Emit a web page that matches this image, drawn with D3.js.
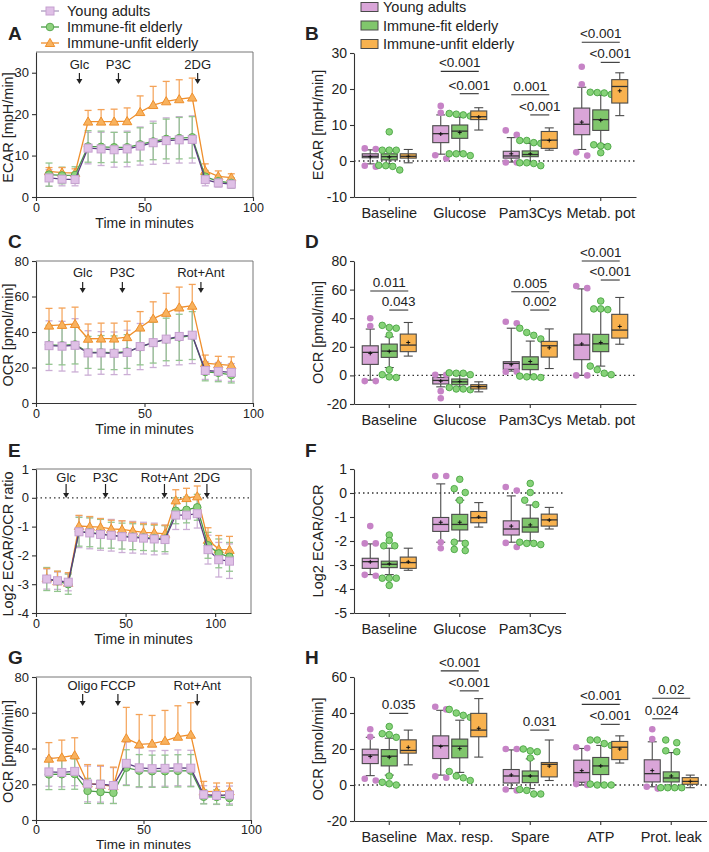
<!DOCTYPE html>
<html>
<head>
<meta charset="utf-8">
<script src="https://cdn.jsdelivr.net/npm/d3@7"></script>
<style>
  body { margin: 0; background: #fff; }
  text { font-family: "Liberation Sans", Arial, sans-serif; fill: #222; }
</style>
</head>
<body>
<svg id="fig" width="709" height="852"></svg>
<script>
// ---- data ----
var groups = ["Young adults", "Immune-fit elderly", "Immune-unfit elderly"];

var time15 = [6, 12, 18, 24, 30, 36, 42, 48, 54, 60, 66, 72, 78, 84, 90];
var time18 = [6, 12, 18, 24, 30, 36, 42, 48, 54, 60, 66, 72, 78, 84, 90, 96, 102, 108];

// A: ECAR kinetics
var ecarYoung = [4.6, 4.3, 4.2, 11.8, 11.6, 11.4, 11.6, 12.3, 13.1, 13.6, 13.8, 13.9, 4.2, 3.4, 3.1];
var ecarYoungSd = [2.0, 1.6, 1.5, 3.8, 4.0, 4.2, 4.3, 4.6, 5.2, 5.5, 5.6, 5.7, 1.5, 1.0, 1.0];
var ecarFit = [5.4, 5.2, 5.3, 12.2, 12.1, 12.0, 12.0, 12.7, 13.4, 14.0, 14.2, 14.4, 4.9, 3.8, 3.4];
var ecarFitSd = [2.8, 2.0, 2.0, 3.8, 3.8, 3.6, 3.6, 4.0, 4.4, 4.8, 5.0, 5.0, 1.5, 1.2, 1.2];
var ecarUnfit = [6.2, 5.9, 5.8, 18.2, 18.2, 18.2, 18.3, 20.5, 22.2, 23.1, 23.6, 24.0, 6.3, 5.0, 4.7];
var ecarUnfitSd = [0.9, 1.2, 1.0, 2.7, 2.9, 3.0, 3.2, 3.9, 4.5, 4.8, 4.7, 4.7, 1.7, 1.3, 0.9];
var ecarInjections = [["Glc", 20], ["P3C", 38], ["2DG", 74.5]];

// C: OCR kinetics
var ocrYoung = [32.3, 32, 32.5, 28.2, 28.2, 28.0, 28.5, 31.8, 34, 36, 37.5, 38.2, 18.3, 17.8, 17.2];
var ocrYoungSd = [14, 14, 15, 12.5, 12, 12, 12.5, 13, 14, 15, 16, 16, 5, 5, 5];
var ocrFit = [32.8, 32.5, 33, 28.5, 28.5, 28.3, 29, 31.5, 34, 35.8, 37, 38, 17.5, 17, 15.8];
var ocrFitSd = [11, 11, 11, 9, 9.5, 9.5, 9.5, 10, 11.5, 12, 13, 13.5, 5, 5, 4.5];
var ocrUnfit = [43.6, 44, 44.5, 36.2, 36.3, 36.3, 37.1, 42.5, 47.5, 50.8, 53.8, 54.8, 22.5, 21.8, 21.2];
var ocrUnfitSd = [9.7, 9.5, 9.5, 8.3, 8.7, 8.7, 9, 9, 9.5, 11, 11.5, 12, 4.5, 4.5, 4.8];
var ocrInjections = [["Glc", 21.5], ["P3C", 39.8], ["Rot+Ant", 76]];

// E: log2 ECAR/OCR kinetics
var ratioYoung = [-2.82, -2.88, -2.93, -1.18, -1.22, -1.27, -1.3, -1.35, -1.37, -1.4, -1.43, -1.45, -0.6, -0.6, -0.55, -1.8, -2.15, -2.2];
var ratioYoungSd = [0.35, 0.3, 0.3, 0.55, 0.55, 0.55, 0.55, 0.55, 0.55, 0.55, 0.55, 0.5, 0.5, 0.5, 0.5, 0.5, 0.6, 0.6];
var ratioFit = [-2.82, -2.9, -3.0, -1.18, -1.2, -1.25, -1.3, -1.33, -1.35, -1.38, -1.4, -1.42, -0.45, -0.42, -0.33, -1.65, -1.93, -2.05];
var ratioFitSd = [0.4, 0.35, 0.35, 0.5, 0.5, 0.5, 0.45, 0.45, 0.45, 0.45, 0.45, 0.45, 0.45, 0.45, 0.45, 0.45, 0.5, 0.5];
var ratioUnfit = [-2.8, -2.9, -2.95, -0.98, -1.0, -1.02, -1.08, -1.1, -1.15, -1.2, -1.22, -1.25, -0.09, -0.01, 0.05, -1.46, -1.79, -1.81];
var ratioUnfitSd = [0.35, 0.35, 0.35, 0.37, 0.35, 0.3, 0.3, 0.3, 0.3, 0.3, 0.3, 0.3, 0.37, 0.34, 0.36, 0.42, 0.48, 0.47];
var ratioInjections = [["Glc", 16.8], ["P3C", 38.8], ["Rot+Ant", 71.7], ["2DG", 95.4]];

// G: mito stress test kinetics
var mitoYoung = [26.9, 26.6, 27.2, 20.2, 20, 19.3, 31.7, 29.2, 28.7, 28.9, 29.2, 29, 14.2, 13.7, 14];
var mitoYoungSd = [8, 8, 8, 10, 10, 10, 12, 11, 10, 10, 10, 10, 5, 5, 5];
var mitoFit = [25.5, 25.6, 25.7, 16.3, 15.7, 15.2, 29.3, 27.6, 27.3, 27.3, 27.5, 27.6, 13, 12.9, 12.3];
var mitoFitSd = [8.5, 8.5, 8.5, 7, 6.5, 6, 10, 9, 9, 9, 9, 9, 4, 4, 4];
var mitoUnfit = [34.3, 35, 36.2, 20.5, 19.6, 18.9, 45.7, 42.3, 42.7, 44.3, 46.6, 47.7, 15.9, 16, 16];
var mitoUnfitSd = [9, 9.7, 9.8, 10.5, 11, 10.7, 17.3, 16.7, 15.8, 17, 17.3, 17.9, 5.7, 4.7, 4.7];
var mitoInjections = [["Oligo", 21.7], ["FCCP", 38.1], ["Rot+Ant", 75]];

// box stats per category, per group: [whiskerLow, q1, median, q3, whiskerHigh, mean]
var glycoCats = ["Baseline", "Glucose", "Pam3Cys", "Metab. pot"];
var ecarBox = [
  [[-0.8, 0.9, 1.3, 2.0, 3.1, 1.2], [-0.8, 0.3, 1.2, 2.0, 2.8, 1.1], [-0.5, 0.8, 1.3, 2.0, 3.2, 1.3]],
  [[1.9, 5.1, 7.6, 9.8, 12.8, 7.5], [2.5, 6.3, 8.3, 10.0, 12.2, 7.9], [8.6, 11.5, 12.3, 13.9, 14.8, 12.2]],
  [[-0.3, 0.8, 1.4, 2.7, 6.5, 2.0], [-0.2, 1.2, 1.8, 2.8, 4.9, 2.0], [3.0, 3.5, 5.8, 8.2, 9.2, 5.7]],
  [[3.2, 7.3, 10.2, 14.7, 20.5, 10.8], [4.6, 8.5, 11.5, 14.2, 18.3, 11.3], [12.6, 16.1, 20.7, 22.6, 24.5, 19.5]]
];
var ecarOut = [
  [[3.3, 3.5, -1.6, -1.3], [8.1, 3.0, 3.0, 3.0, -1.2, -1.5, -2.5, -1.3], []],
  [[15.3, 13.4, 1.6, 0.7], [13.0, 12.8, 12.5, 13.2, 2.0, 2.0, 2.0, 1.5], []],
  [[8.5, 7.3, -0.4, -0.4], [4.9, 5.1, 5.7, 5.7, -1.3, -0.5, -0.7, -0.5], []],
  [[26.2, 21.3, 1.5, 2.4], [18.5, 18.9, 19.1, 19.0, 4.5, 4.0, 4.2, 2.3], []]
];
// [category, group from, group to, bar value, label]
var ecarSig = [[1, 0, 2, 24.9, "<0.001"], [1, 1, 2, 18.7, "<0.001"], [2, 0, 2, 18.4, "0.001"],
               [2, 1, 2, 12.8, "<0.001"], [3, 0, 2, 33.0, "<0.001"], [3, 1, 2, 27.4, "<0.001"]];

var ocrBox = [
  [[-3.3, 7.7, 16.1, 20.7, 32.4, 15.4], [5.5, 12.6, 17.0, 21.9, 27.0, 16.8], [13.5, 16.6, 21.2, 28.9, 37.0, 23.0]],
  [[-8, -6, -3.5, -1.5, 0.5, -4], [-8, -6.5, -4.5, -2.5, 0, -4.3], [-11.5, -9.5, -7.8, -6.5, -4.5, -8]],
  [[3, 4.2, 8.4, 9.6, 33, 7.5], [0.5, 4, 7.7, 13, 24, 9.7], [4.8, 12.8, 20.7, 23.8, 32.5, 19.3]],
  [[0, 11, 21.2, 28.9, 60.5, 22], [6.5, 16.6, 22.1, 28.7, 46, 23], [21.8, 26.1, 31.7, 42.7, 54.5, 34.2]]
];
var ocrOut = [
  [[40, 34.5, -4, -4], [35, 33.5, 33, 28.3, 4, 0.5, -1.5, -1], []],
  [[0.5, 0.5, -11, -16], [1.5, 1.5, 1.8, 0.5, -8.5, -10, -9.5, -9.5], []],
  [[36.5, 37.5, 2.5, 2.5], [33, 30, 28, 25.5, -0.5, -1, -1.5, -1], []],
  [[61, 62.5, 0, 0], [52, 46.5, 46.5, 46, 6.5, 4, 0.5, 1.5], []]
];
var ocrSig = [[0, 0, 2, 59, "0.011"], [0, 1, 2, 45.7, "0.043"], [2, 0, 2, 58.5, "0.005"],
              [2, 1, 2, 45.7, "0.002"], [3, 0, 2, 80, "<0.001"], [3, 1, 2, 66.7, "<0.001"]];

var ratioCats = ["Baseline", "Glucose", "Pam3Cys"];
var ratioBox = [
  [[-3.4, -3.14, -2.86, -2.72, -2.12, -2.87], [-3.4, -3.11, -2.97, -2.84, -2.3, -2.95], [-3.22, -3.14, -2.9, -2.67, -2.3, -2.87]],
  [[-2.05, -1.6, -1.31, -1.02, 0.38, -1.22], [-2.0, -1.54, -1.31, -0.89, -0.3, -1.22], [-1.42, -1.24, -1.03, -0.77, -0.4, -1.0]],
  [[-2.05, -1.75, -1.5, -1.16, -0.12, -1.38], [-2.0, -1.63, -1.42, -1.05, -0.5, -1.33], [-1.5, -1.38, -1.12, -0.88, -0.6, -1.13]]
];
var ratioOut = [
  [[-1.38, -2.1, -2.1, -3.45, -3.41], [-1.75, -1.98, -2.2, -2.2, -3.55, -3.55, -3.55, -3.85], []],
  [[0.71, 0.71, -2.05, -2.3], [0.57, 0.18, 0.02, -0.3, -2.1, -2.4, -2.35, -2.05], []],
  [[0.25, 0.1, -2.25, -2.08], [0.4, 0.02, -0.3, -0.48, -2.15, -2.1, -2.05, -2.1], []]
];

var mitoCats = ["Baseline", "Max. resp.", "Spare", "ATP", "Prot. leak"];
var mitoBox = [
  [[5.2, 11.9, 16.7, 19.9, 26.5, 15.8], [5.5, 10.6, 16, 19.7, 26, 15.4], [11.2, 17.7, 19.2, 25.1, 30.5, 20.9]],
  [[5.5, 14.7, 21.8, 27.3, 41.5, 21.4], [7, 15.1, 21.6, 25.5, 36, 20.2], [15.5, 26.8, 30.5, 39.8, 48, 31.5]],
  [[-2, 1.1, 5, 8.6, 19.5, 5.6], [-2, 1.3, 5, 7.8, 14.5, 5], [2.5, 4.5, 11.5, 12.5, 25, 10.5]],
  [[0, 1.5, 6.9, 13.8, 20.3, 8], [0, 5.8, 10.6, 15.3, 22, 10.6], [12.2, 14.1, 21, 24.2, 27.3, 20]],
  [[-1, 1.7, 6.3, 14, 24, 8], [-1, 1.7, 3.9, 7.3, 18, 5], [-1.5, 0.4, 2, 4.1, 5.5, 2]]
];
var mitoOut = [
  [[31, 26.8, 2.5, 3.5], [32.5, 28.5, 28, 26.5, 5, 1.5, 0.7, 0], []],
  [[42, 43.5, 4, 4.8], [40, 42, 38.7, 37.6, 7.5, 5, 4, 2.5], []],
  [[20, 20, -3, -2.5], [18.5, 19, 20, 15, -2.5, -5, -3, -5], []],
  [[20.5, 21, 0, 0.5], [25, 25, 23, 22, 0, 0.5, 0, 0], []],
  [[31, 25.5, -2, -1], [25, 23.5, 19, 18.5, -1.5, -1.5, -1.5, -1.5], []]
];
var mitoSig = [[0, 1, 2, 39.8, "0.035"], [1, 0, 2, 63.4, "<0.001"], [1, 1, 2, 52.3, "<0.001"],
               [2, 1, 2, 30.5, "0.031"], [3, 0, 2, 44.8, "<0.001"], [3, 1, 2, 33.7, "<0.001"],
               [4, 0, 2, 48.2, "0.02"], [4, 0, 1, 36.8, "0.024"]];

// ---- styles ----
var sty = [
  {line: "#5b3c80", mfill: "#dfc0e6", mstroke: "#c6a0d0", err: "#cbaed5", box: "#d9a5d8", dot: "#c683c6", dotStroke: "none"},
  {line: "#4b9b48", mfill: "#8fd27f", mstroke: "#5aa94f", err: "#93c58f", box: "#80c66c", dot: "#86d278", dotStroke: "#4aa543"},
  {line: "#ef8f2d", mfill: "#f8b25e", mstroke: "#ee8f2c", err: "#f4a257", box: "#f8b24f", dot: "#f8b24f", dotStroke: "#e08f20"}
];
var errDir = ["both", "both", "up"];
var axisColor = "#333";
var plainNum = function(d) { return String(d); };

var svg = d3.select("#fig");

function drawMarker(g, i, x, y) {
  var s = sty[i];
  if (i === 0) {
    g.append("rect").attr("x", x - 4).attr("y", y - 4).attr("width", 8).attr("height", 8)
      .attr("fill", s.mfill).attr("stroke", s.mstroke).attr("stroke-width", 1);
  } else if (i === 1) {
    g.append("circle").attr("cx", x).attr("cy", y).attr("r", 3.8)
      .attr("fill", s.mfill).attr("stroke", s.mstroke).attr("stroke-width", 1);
  } else {
    g.append("path").attr("d", d3.symbol(d3.symbolTriangle, 38)())
      .attr("transform", "translate(" + x + "," + (y + 0.8) + ")")
      .attr("fill", s.mfill).attr("stroke", s.mstroke).attr("stroke-width", 1);
  }
}

function styleAxis(sel, fs) {
  sel.selectAll("path, line").attr("stroke", axisColor).attr("stroke-width", 1.1);
  sel.selectAll("text").style("font-size", fs + "px").attr("fill", "#222");
}

function yLabel(x, yMid, txt) {
  svg.append("text").attr("transform", "translate(" + x + "," + yMid + ") rotate(-90)")
    .attr("text-anchor", "middle").style("font-size", "14.5px").text(txt);
}

function letter(x, y, txt) {
  svg.append("text").attr("x", x).attr("y", y).style("font-size", "19px")
    .style("font-weight", "bold").text(txt);
}

function linePanel(cfg) {
  var x = d3.scaleLinear().domain(cfg.xDomain).range([cfg.left, cfg.right]);
  var y = d3.scaleLinear().domain(cfg.yDomain).range([cfg.bottom, cfg.top]);
  var g = svg.append("g");

  // frame
  g.append("path").attr("d", "M" + cfg.left + "," + cfg.top + "H" + cfg.right + "V" + cfg.bottom)
    .attr("fill", "none").attr("stroke", "#777").attr("stroke-width", 1);

  if (cfg.zero) {
    g.append("line").attr("x1", cfg.left).attr("x2", cfg.right).attr("y1", y(0)).attr("y2", y(0))
      .attr("stroke", "#333").attr("stroke-width", 1.3).attr("stroke-dasharray", "1.5,3");
  }

  var series = cfg.series;
  // error bars
  series.forEach(function(s, i) {
    s.vals.forEach(function(v, k) {
      var cx = x(s.t[k]);
      var hi = v + s.sd[k], lo = errDir[i] === "up" ? v : v - s.sd[k];
      g.append("line").attr("x1", cx).attr("x2", cx).attr("y1", y(lo)).attr("y2", y(hi))
        .attr("stroke", sty[i].err).attr("stroke-width", 1.2);
      g.append("line").attr("x1", cx - 3.5).attr("x2", cx + 3.5).attr("y1", y(hi)).attr("y2", y(hi))
        .attr("stroke", sty[i].err).attr("stroke-width", 1.3);
      if (errDir[i] !== "up")
        g.append("line").attr("x1", cx - 3.5).attr("x2", cx + 3.5).attr("y1", y(lo)).attr("y2", y(lo))
          .attr("stroke", sty[i].err).attr("stroke-width", 1.3);
    });
  });
  // lines + markers, drawn orange, green, young on top
  [2, 1, 0].forEach(function(i) {
    var s = series[i];
    var line = d3.line().x(function(d, k) { return x(s.t[k]); }).y(function(d) { return y(d); });
    g.append("path").datum(s.vals).attr("d", line).attr("fill", "none")
      .attr("stroke", sty[i].line).attr("stroke-width", 1.3);
    s.vals.forEach(function(v, k) { drawMarker(g, i, x(s.t[k]), y(v)); });
  });

  // injections
  cfg.inj.forEach(function(a) {
    var ax = x(a[1]);
    g.append("text").attr("x", ax).attr("y", cfg.injText).attr("text-anchor", "middle")
      .style("font-size", "13px").text(a[0]);
    g.append("line").attr("x1", ax).attr("x2", ax).attr("y1", cfg.injA0).attr("y2", cfg.injA1 - 3)
      .attr("stroke", "#222").attr("stroke-width", 1.2);
    g.append("path").attr("d", "M" + (ax - 3) + "," + (cfg.injA1 - 5) + "L" + (ax + 3) + "," + (cfg.injA1 - 5) + "L" + ax + "," + cfg.injA1 + "Z")
      .attr("fill", "#222");
  });

  var ya = g.append("g").attr("transform", "translate(" + cfg.left + ",0)")
    .call(d3.axisLeft(y).tickValues(cfg.yTicks).tickFormat(plainNum).tickSize(4).tickSizeOuter(0));
  styleAxis(ya, 13);
  var xa = g.append("g").attr("transform", "translate(0," + cfg.bottom + ")")
    .call(d3.axisBottom(x).tickValues(cfg.xTicks).tickFormat(plainNum).tickSize(4).tickSizeOuter(0));
  styleAxis(xa, 12.5);
  xa.selectAll("text").attr("y", cfg.tickY || 6).attr("dy", "0.71em");

  g.append("text").attr("x", (cfg.left + cfg.right) / 2).attr("y", cfg.bottom + (cfg.xlabDy || 31))
    .attr("text-anchor", "middle").style("font-size", (cfg.xlabFs || 14) + "px").text("Time in minutes");
  yLabel(13, (cfg.top + cfg.bottom) / 2 + 3, cfg.ylab);
}

function swarm(vals, y, cx) {
  var pts = vals.map(function(v) { return {v: v, py: y(v)}; }).sort(function(a, b) { return a.py - b.py; });
  var clusters = [], cur = [];
  pts.forEach(function(p) {
    if (cur.length && p.py - cur[cur.length - 1].py > 5) { clusters.push(cur); cur = []; }
    cur.push(p);
  });
  if (cur.length) clusters.push(cur);
  var out = [];
  clusters.forEach(function(c) {
    var n = c.length, sp = n === 2 ? 11 : 7;
    c.forEach(function(p, j) { out.push({x: cx + (j - (n - 1) / 2) * sp, y: p.py}); });
  });
  return out;
}

function boxPanel(cfg) {
  var band = d3.scaleBand().domain(cfg.cats).range([354, 354 + 70.5 * cfg.cats.length]);
  var off = d3.scalePoint().domain([0, 1, 2]).range([-19, 19]);
  var y = d3.scaleLinear().domain(cfg.yDomain).range([cfg.bottom, cfg.top]);
  var g = svg.append("g");
  var x0 = band.range()[0], x1 = band.range()[1];

  g.append("line").attr("x1", x0).attr("x2", x1).attr("y1", y(0)).attr("y2", y(0))
    .attr("stroke", "#333").attr("stroke-width", 1.3).attr("stroke-dasharray", "1.5,3");

  cfg.cats.forEach(function(c, ci) {
    var center = band(c) + band.bandwidth() / 2;
    cfg.stats[ci].forEach(function(st, gi) {
      var cx = center + off(gi), w = 16;
      var col = "#4a4a4a";
      g.append("line").attr("x1", cx).attr("x2", cx).attr("y1", y(st[0])).attr("y2", y(st[4]))
        .attr("stroke", col).attr("stroke-width", 1.1);
      [st[0], st[4]].forEach(function(v) {
        g.append("line").attr("x1", cx - 4.5).attr("x2", cx + 4.5).attr("y1", y(v)).attr("y2", y(v))
          .attr("stroke", col).attr("stroke-width", 1.1);
      });
      g.append("rect").attr("x", cx - w / 2).attr("y", y(st[3])).attr("width", w)
        .attr("height", y(st[1]) - y(st[3])).attr("fill", sty[gi].box).attr("stroke", col).attr("stroke-width", 1.1);
      g.append("line").attr("x1", cx - w / 2).attr("x2", cx + w / 2).attr("y1", y(st[2])).attr("y2", y(st[2]))
        .attr("stroke", "#333").attr("stroke-width", 1.3);
      var my = y(st[5]);
      g.append("path").attr("d", "M" + (cx - 2) + "," + my + "H" + (cx + 2) + "M" + cx + "," + (my - 2) + "V" + (my + 2))
        .attr("stroke", "#111").attr("stroke-width", 1);
      swarm(cfg.out[ci][gi], y, cx).forEach(function(p) {
        g.append("circle").attr("cx", p.x).attr("cy", p.y).attr("r", 3.3)
          .attr("fill", sty[gi].dot).attr("stroke", sty[gi].dotStroke).attr("stroke-width", 0.9);
      });
    });
  });

  (cfg.sig || []).forEach(function(s) {
    var center = band(cfg.cats[s[0]]) + band.bandwidth() / 2;
    var xa = center + off(s[1]), xb = center + off(s[2]), yy = y(s[3]);
    g.append("line").attr("x1", xa).attr("x2", xb).attr("y1", yy).attr("y2", yy)
      .attr("stroke", "#333").attr("stroke-width", 1.1);
    g.append("text").attr("x", (xa + xb) / 2).attr("y", yy - 4).attr("text-anchor", "middle")
      .style("font-size", "13.5px").text(s[4]);
  });

  var ya = g.append("g").attr("transform", "translate(" + x0 + ",0)")
    .call(d3.axisLeft(y).tickValues(cfg.yTicks).tickFormat(plainNum).tickSize(4).tickSizeOuter(0));
  styleAxis(ya, 14);
  var xa = g.append("g").attr("transform", "translate(0," + cfg.bottom + ")")
    .call(d3.axisBottom(band).tickSize(4).tickSizeOuter(0));
  styleAxis(xa, 14.5);
  xa.selectAll("text").attr("dy", "0.95em");
  yLabel(323, (cfg.top + cfg.bottom) / 2, cfg.ylab);
}

function mkSeries(t, a, as, b, bs, c, cs) {
  return [{t: t, vals: a, sd: as}, {t: t, vals: b, sd: bs}, {t: t, vals: c, sd: cs}];
}

// ---- panels ----
linePanel({left: 36, right: 253, top: 52, bottom: 197, xDomain: [0, 100], yDomain: [0, 35],
  yTicks: [0, 10, 20, 30], xTicks: [0, 50, 100], ylab: "ECAR [mpH/min]",
  series: mkSeries(time15, ecarYoung, ecarYoungSd, ecarFit, ecarFitSd, ecarUnfit, ecarUnfitSd),
  inj: ecarInjections, injText: 69, injA0: 73, injA1: 84});

linePanel({left: 36, right: 253, top: 261, bottom: 403, xDomain: [0, 100], yDomain: [0, 80],
  yTicks: [0, 20, 40, 60, 80], xTicks: [0, 50, 100], ylab: "OCR [pmol/min]",
  series: mkSeries(time15, ocrYoung, ocrYoungSd, ocrFit, ocrFitSd, ocrUnfit, ocrUnfitSd),
  inj: ocrInjections, injText: 277, injA0: 282, injA1: 293});

linePanel({left: 36, right: 251, top: 469, bottom: 613, xDomain: [0, 120], yDomain: [-4, 1],
  yTicks: [-4, -3, -2, -1, 0, 1], xTicks: [0, 50, 100], ylab: "Log2 ECAR/OCR ratio", zero: true,
  series: mkSeries(time18, ratioYoung, ratioYoungSd, ratioFit, ratioFitSd, ratioUnfit, ratioUnfitSd),
  inj: ratioInjections, injText: 482, injA0: 484, injA1: 498});

linePanel({left: 36, right: 251, top: 677, bottom: 820, xDomain: [0, 100], yDomain: [0, 80],
  yTicks: [0, 20, 40, 60, 80], xTicks: [0, 50, 100], ylab: "OCR [pmol/min]",
  xlabDy: 29, xlabFs: 13.5, tickY: 5,
  series: mkSeries(time15, mitoYoung, mitoYoungSd, mitoFit, mitoFitSd, mitoUnfit, mitoUnfitSd),
  inj: mitoInjections, injText: 690, injA0: 694, injA1: 706});

boxPanel({cats: glycoCats, stats: ecarBox, out: ecarOut, sig: ecarSig, yDomain: [-10, 30],
  yTicks: [-10, 0, 10, 20, 30], top: 53, bottom: 197, ylab: "ECAR [mpH/min]"});
boxPanel({cats: glycoCats, stats: ocrBox, out: ocrOut, sig: ocrSig, yDomain: [-20, 80],
  yTicks: [-20, 0, 20, 40, 60, 80], top: 261, bottom: 404, ylab: "OCR [pmol/min]"});
boxPanel({cats: ratioCats, stats: ratioBox, out: ratioOut, yDomain: [-5, 1],
  yTicks: [-5, -4, -3, -2, -1, 0, 1], top: 469, bottom: 613, ylab: "Log2 ECAR/OCR"});
boxPanel({cats: mitoCats, stats: mitoBox, out: mitoOut, sig: mitoSig, yDomain: [-20, 60],
  yTicks: [-20, 0, 20, 40, 60], top: 677, bottom: 821, ylab: "OCR [pmol/min]"});

// ---- legends ----
groups.forEach(function(name, i) {
  var ly = 11 + i * 16;
  svg.append("line").attr("x1", 41).attr("x2", 59).attr("y1", ly).attr("y2", ly)
    .attr("stroke", sty[i].line).attr("stroke-width", 1.3).attr("stroke-opacity", i === 0 ? 0.5 : 1);
  drawMarker(svg, i, 50, ly);
  svg.append("text").attr("x", 67).attr("y", ly + 5).style("font-size", "14.5px").text(name);

  var by = 7 + i * 18.5;
  svg.append("rect").attr("x", 361).attr("y", by - 4.5).attr("width", 17).attr("height", 9)
    .attr("fill", sty[i].box).attr("stroke", "#4a4a4a").attr("stroke-width", 1);
  svg.append("text").attr("x", 383).attr("y", by + 5).style("font-size", "14.5px").text(name);
});

letter(8, 40, "A"); letter(305, 40, "B");
letter(8, 248, "C"); letter(305, 248, "D");
letter(8, 457, "E"); letter(305, 457, "F");
letter(8, 664, "G"); letter(305, 664, "H");
</script>
</body>
</html>
